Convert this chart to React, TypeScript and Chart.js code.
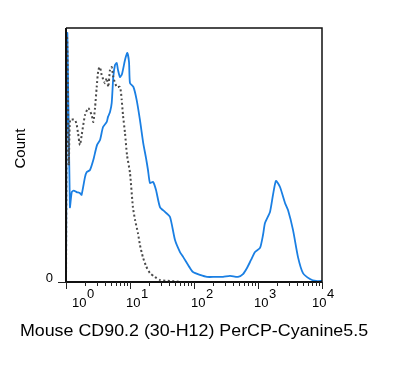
import { useEffect, useRef } from "react";
import { Chart, registerables } from "chart.js";

Chart.register(...registerables);

// Stained sample (CD90.2 PerCP-Cyanine5.5)
const stainedIntensity = [
  1.0, 1.05, 1.15, 1.23, 1.32, 1.47, 1.65, 1.75, 1.98, 2.11, 2.37, 2.67, 3.05, 3.4, 3.79, 4.33, 4.53,
  4.87, 5.18, 5.48, 5.83, 6.2, 6.49, 6.98, 7.5, 8.35, 9.07, 9.65, 10.0, 11.3, 12.7, 14.3, 16.1, 17.8,
  19.1, 20.5, 22.9, 25.5, 29.4, 35.2, 42.2, 50.5, 60.4, 68.0, 86.6, 96.4, 124, 160, 213, 284, 365, 487,
  583, 673, 778, 898, 1075, 1197, 1286, 1540, 1715, 1911, 2207, 2642, 2943, 3522, 4217, 5047, 6494,
  8058, 10000,
];
const stainedCount = [
  0, 98, 29.5, 35.4, 36, 35.4, 35.0, 34.3, 41.3, 43.3, 44.1, 48.0, 53.9, 55.9, 61.0, 63.0, 65.0, 66.9,
  70.5, 80.7, 85.4, 86.2, 83.5, 80.7, 81.9, 87.4, 90.2, 86.6, 78.3, 76.8, 71.7, 63.8, 54.7, 48.8, 44.1,
  39.0, 39.4, 36.2, 29.5, 27.6, 25.6, 16.5, 11.8, 9.8, 5.5, 3.9, 2.8, 2.0, 2.0, 2.0, 2.4, 2.0, 3.1, 5.5,
  8.7, 11.8, 13.4, 18.5, 23.2, 27.6, 34.3, 39.8, 37.4, 31.1, 28.3, 20.5, 9.8, 3.5, 1.2, 0.4, 0.4,
];

// Unstained control
const controlIntensity = [
  1.0, 1.04, 1.11, 1.16, 1.38, 1.47, 1.54, 1.65, 1.76, 1.98, 2.23, 2.52, 2.67, 2.84, 3.02, 3.2, 3.4,
  3.61, 4.06, 4.33, 4.58, 4.87, 5.18, 5.48, 6.2, 6.98, 7.42, 7.77, 8.35, 8.98, 10.0, 11.1, 12.0, 13.3,
  14.3, 15.9, 17.8, 20.5, 24.5, 29.4, 42.2, 67.3, 10000,
];
const controlCount = [
  0, 96, 46, 63.8, 63.8, 61.8, 58.7, 53.9, 57.9, 65.7, 68.5, 65.7, 63.0, 68.5, 76.8, 83.5, 84.6, 81.5,
  78.3, 80.3, 76.8, 83.5, 84.6, 80.7, 76.8, 76.8, 71.7, 65.7, 58.7, 50.0, 42.9, 29.5, 24.4, 19.3, 14.6,
  9.8, 6.3, 3.5, 2.0, 0.8, 0.4, 0, 0,
];

const decadeExponents = [0, 1, 2, 3, 4];
const yTickLabels = ["0"];
const xTitle = "Mouse CD90.2 (30-H12) PerCP-Cyanine5.5";
const yTitle = "Count";

const FONT = 'Arial, "Liberation Sans", Helvetica, sans-serif';

const toPoints = (xs: number[], ys: number[]) => xs.map((x, i) => ({ x, y: ys[i] }));

const axesPlugin = {
  id: "flowAxes",
  afterDraw(chart: any) {
    const { ctx, chartArea, scales } = chart;
    const xs = scales.x;
    const { left, right, top, bottom } = chartArea;
    ctx.save();

    // frame
    ctx.strokeStyle = "#111";
    ctx.lineWidth = 1.5;
    ctx.beginPath();
    ctx.moveTo(left, top);
    ctx.lineTo(right, top);
    ctx.lineTo(right, bottom);
    ctx.stroke();
    ctx.lineWidth = 2;
    ctx.beginPath();
    ctx.moveTo(left, top);
    ctx.lineTo(left, bottom);
    ctx.lineTo(right, bottom);
    ctx.stroke();

    // decade and minor ticks
    ctx.lineWidth = 1;
    ctx.strokeStyle = "#222";
    decadeExponents.forEach((e, i) => {
      const major = Math.round(xs.getPixelForValue(Math.pow(10, e))) + 0.5;
      ctx.beginPath();
      ctx.moveTo(major, bottom);
      ctx.lineTo(major, bottom + 7);
      ctx.stroke();
      if (i < decadeExponents.length - 1) {
        for (let k = 2; k <= 9; k++) {
          const px = Math.round(xs.getPixelForValue(k * Math.pow(10, e))) + 0.5;
          ctx.beginPath();
          ctx.moveTo(px, bottom);
          ctx.lineTo(px, bottom + 4);
          ctx.stroke();
        }
      }
    });
    // y tick at zero
    ctx.beginPath();
    ctx.moveTo(left - 8, bottom + 0.5);
    ctx.lineTo(left, bottom + 0.5);
    ctx.stroke();

    // decade labels 10^n
    ctx.fillStyle = "#000";
    ctx.textBaseline = "alphabetic";
    ctx.textAlign = "left";
    ctx.font = `13px ${FONT}`;
    const nudges = [6, -4, -3, -4, -10];
    decadeExponents.forEach((e, i) => {
      const px = xs.getPixelForValue(Math.pow(10, e));
      const x0 = px + nudges[i];
      const w = ctx.measureText("10").width;
      ctx.fillText("10", x0, bottom + 25);
      ctx.fillText(String(e), x0 + w + 0.5, bottom + 16);
    });

    // y label at zero
    ctx.textAlign = "right";
    ctx.fillText(yTickLabels[0], left - 13, bottom);

    // axis titles
    ctx.textAlign = "center";
    ctx.font = `17px ${FONT}`;
    ctx.save();
    ctx.translate(194, 336);
    ctx.scale(1.05, 1);
    ctx.fillText(xTitle, 0, 0);
    ctx.restore();

    ctx.font = `15px ${FONT}`;
    ctx.save();
    ctx.translate(25, 148.5);
    ctx.rotate(-Math.PI / 2);
    ctx.fillText(yTitle, 0, 0);
    ctx.restore();

    ctx.restore();
  },
};

export default function App() {
  const canvasRef = useRef<HTMLCanvasElement | null>(null);

  useEffect(() => {
    const canvas = canvasRef.current;
    if (!canvas) return;
    const chart = new Chart(canvas, {
      type: "line",
      data: {
        datasets: [
          {
            label: "Unstained",
            data: toPoints(controlIntensity, controlCount),
            borderColor: "#4a4a4a",
            borderWidth: 2,
            borderDash: [2, 2.5],
            pointRadius: 0,
            fill: false,
            tension: 0.2,
            order: 0,
          },
          {
            label: "CD90.2",
            data: toPoints(stainedIntensity, stainedCount),
            borderColor: "#1a7fe3",
            borderWidth: 1.8,
            pointRadius: 0,
            fill: false,
            tension: 0.2,
            order: 1,
          },
        ],
      },
      options: {
        animation: false,
        responsive: false,
        devicePixelRatio: 1,
        parsing: false as any,
        layout: { padding: { top: 28, right: 73, left: 0, bottom: 0 } },
        plugins: { legend: { display: false }, tooltip: { enabled: false } },
        scales: {
          x: {
            type: "logarithmic",
            min: 1,
            max: 10000,
            grid: { display: false },
            border: { display: false },
            ticks: { display: false },
            afterFit: (s: any) => {
              s.height = 101;
            },
          },
          y: {
            min: 0,
            max: 100,
            grid: { display: false },
            border: { display: false },
            ticks: { display: false },
            afterFit: (s: any) => {
              s.width = 66;
            },
          },
        },
      },
      plugins: [axesPlugin],
    });
    return () => chart.destroy();
  }, []);

  return (
    <div style={{ position: "fixed", left: 0, top: 0, width: 395, height: 383, background: "#fff" }}>
      <canvas ref={canvasRef} width={395} height={383} style={{ display: "block" }} />
    </div>
  );
}
